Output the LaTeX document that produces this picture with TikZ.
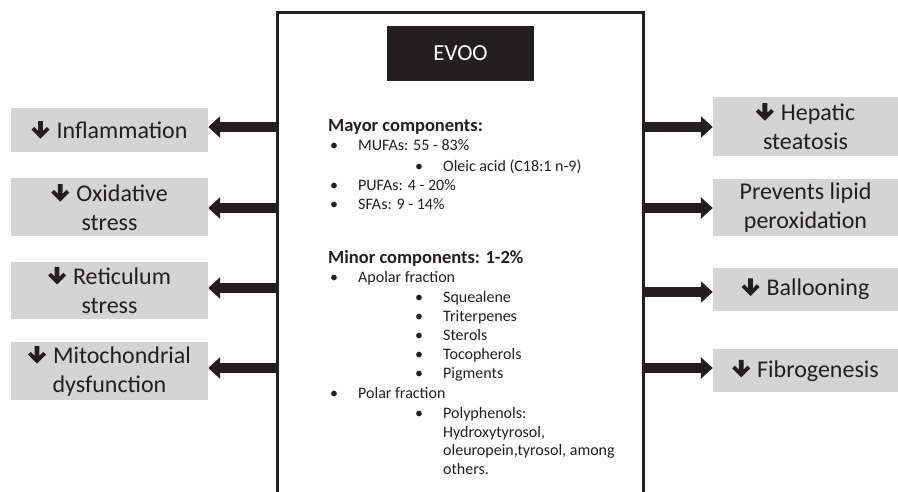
\documentclass[tikz,border=0pt]{standalone}
\usepackage{fontspec}
\setmainfont{Carlito}
\usetikzlibrary{arrows.meta, positioning}
\definecolor{ink}{HTML}{231F20}
\definecolor{boxgray}{HTML}{D4D4D4}
\newcommand{\dn}{\tikz[baseline=0pt, x=1pt, y=1pt] \fill[ink] (0,0) -- (9,9) -- (6.3,11.7) -- (2.4,7.8) -- (2.4,17.5) -- (-2.4,17.5) -- (-2.4,7.8) -- (-6.3,11.7) -- (-9,9) -- cycle;\hspace{7pt}}
\newcommand{\bul}{\makebox[28pt][l]{\textbullet}}

\begin{document}
\begin{tikzpicture}[x=1pt, y=-1pt,
    effect/.style={rectangle, fill=boxgray, text=ink, align=center, inner sep=0pt, font=\fontsize{24}{29}\selectfont},
    lbox/.style={effect, minimum width=197pt},
    rbox/.style={effect, minimum width=185pt},
    fat/.style={ink, line width=10pt, -{Triangle[length=12pt, width=21pt]}},
    item/.style={anchor=base west, inner sep=0pt, text=ink, font=\fontsize{16}{19}\selectfont},
    head/.style={item, font=\bfseries\fontsize{18.5}{19}\selectfont}]
  \useasboundingbox (0,0) rectangle (898,492);

  % main frame, open at the bottom
  \draw[ink, line width=3pt] (277,492) |- (643,13) -- (643,492);
  \node[fill=ink, text=white, minimum width=147pt, minimum height=55pt, font=\fontsize{23}{23}\selectfont] (evoo) at (460.5,53.5) {EVOO};

  % components
  \node[head] (mayor) at (328,132) {Mayor components:};
  \node[head] (minor) at (328,263) {Minor components: 1-2\%};
  \foreach \xx/\yy/\txt [count=\i] in {
      330/151/{\bul MUFAs: 55 - 83\%},
      415/172/{\bul Oleic acid (C18:1 n-9)},
      330/191/{\bul PUFAs: 4 - 20\%},
      330/210/{\bul SFAs: 9 - 14\%},
      330/283/{\bul Apolar fraction},
      415/302/{\bul Squealene},
      415/321/{\bul Triterpenes},
      415/340/{\bul Sterols},
      415/359/{\bul Tocopherols},
      415/378/{\bul Pigments},
      330/398/{\bul Polar fraction},
      415/418/{\bul Polyphenols:},
      443/437/{Hydroxytyrosol,},
      443/455/{oleuropein,tyrosol, among},
      443/474/{others.}}
    \node[item] (c\i) at (\xx,\yy) {\txt};

  % left effects
  \node[lbox, minimum height=44pt] (infl) at (109.5,130) {\dn Inflammation};
  \node[lbox, minimum height=58pt, below=26pt of infl] (oxid) {\dn Oxidative\\stress};
  \node[lbox, minimum height=57pt, below=25pt of oxid] (retic) {\dn Reticulum\\stress};
  \node[lbox, minimum height=58pt, below=23pt of retic] (mito) {\dn Mitochondrial\\dysfunction};

  % right effects
  \node[rbox, minimum height=59pt] (hep) at (805.5,126.5) {\dn Hepatic\\steatosis};
  \node[rbox, minimum height=57pt, below=23pt of hep] (lipid) {Prevents lipid\\peroxidation};
  \node[rbox, minimum height=43pt, below=31pt of lipid] (ball) {\dn Ballooning};
  \node[rbox, minimum height=43pt, below=38pt of ball] (fib) {\dn Fibrogenesis};

  \foreach \yy/\b [count=\i] in {127/infl, 208/oxid, 288/retic, 368/mito} {
    \coordinate (l\i) at (277,\yy);
    \draw[fat] (l\i) -- (l\i -| \b.east);
  }
  \foreach \yy/\b [count=\i] in {127/hep, 208/lipid, 292/ball, 368/fib} {
    \coordinate (r\i) at (643,\yy);
    \draw[fat] (r\i) -- (r\i -| \b.west);
  }
\end{tikzpicture}
\end{document}
